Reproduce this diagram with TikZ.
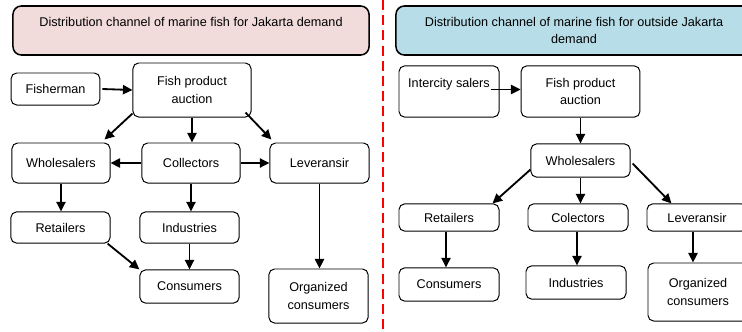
\documentclass[tikz,border=0pt]{standalone}
\usepackage{fontspec}
\setmainfont{Liberation Sans}
\usetikzlibrary{arrows.meta}

\definecolor{titlepink}{HTML}{F2DCDB}
\definecolor{titleblue}{HTML}{B7DEE8}

\begin{document}
\begin{tikzpicture}[x=0.025cm, y=-0.025cm,
  tbox/.style={rectangle, rounded corners=6pt, draw, line width=1.1pt,
              align=center, minimum width=8.9cm, minimum height=1.225cm, font=\fontsize{9}{12}\selectfont},
  nbox/.style={rectangle, rounded corners=4pt, draw, line width=0.7pt,
              align=center, minimum width=2.48cm, minimum height=0.8cm, inner sep=2pt, font=\fontsize{9}{12.5}\selectfont},
  arr/.style={-{Triangle[length=2.4mm, width=2.3mm]}, line width=1.3pt},
  sep/.style={red, line width=2pt, dash pattern=on 0.25cm off 0.13cm}
]
\path[use as bounding box, clip] (0,0) rectangle (742,331);

\node[tbox, fill=titlepink] (tjak) at (191,30.5) {Distribution channel of marine fish for Jakarta demand\\ \mbox{}};
\node[nbox, minimum width=2.22cm] (fisher) at (55.5,89) {Fisherman};
\node[nbox, minimum width=2.95cm, minimum height=1.35cm] (auc) at (192,90) {Fish product\\auction};
\node[nbox, minimum width=2.45cm, minimum height=1cm] (whole) at (61,163) {Wholesalers};
\node[nbox, minimum width=2.45cm, minimum height=1cm] (coll) at (191,163) {Collectors};
\node[nbox, minimum height=1cm] (lever) at (319.5,163) {Leveransir};
\node[nbox, minimum height=0.78cm] (retail) at (60.5,227.5) {Retailers};
\node[nbox, minimum height=0.78cm] (indus) at (189.5,227.5) {Industries};
\node[nbox, minimum height=0.83cm] (cons) at (189.5,286.5) {Consumers};
\node[nbox, minimum height=1.35cm] (orgc) at (318.5,296) {Organized\\consumers};

\draw[arr] ([shift={(2,0)}]fisher.east) -- (auc.west);
\draw[arr] ([shift={(0,-4)}]auc.south west) -- ([shift={(-6,-3)}]whole.north east);
\draw[arr] (auc.south) -- (auc.south |- coll.north);
\draw[arr] ([shift={(-6,-5)}]auc.south east) -- ([shift={(2,-3)}]lever.north west);
\draw[arr] (coll.west) -- (whole.east);
\draw[arr] (coll.east) -- (lever.west);
\draw[arr] (whole.south) -- (whole.south |- retail.north);
\draw[arr] (coll.south) -- (coll.south |- indus.north);
\draw[arr] ([shift={(-3,0)}]retail.south east) -- (cons.north west);
\draw[arr] (indus.south) -- (indus.south |- cons.north);
\draw[arr] (lever.south) -- (lever.south |- orgc.north);

\draw[sep] (383,0) -- (383,331);

\node[tbox, fill=titleblue] (tout) at (574,30.5) {Distribution channel of marine fish for outside Jakarta\\demand};
\node[nbox, minimum width=2.5cm, minimum height=1.28cm] (isal) at (449,91.5) {Intercity salers\\ \mbox{}};
\node[nbox, minimum width=2.97cm, minimum height=1.28cm] (auc2) at (580.5,91.5) {Fish product\\auction};
\node[nbox, minimum height=0.83cm] (whole2) at (580.5,160.5) {Wholesalers};
\node[nbox, minimum width=2.5cm, minimum height=0.68cm] (retail2) at (449,217.5) {Retailers};
\node[nbox, minimum width=2.5cm, minimum height=0.68cm] (coll2) at (578,217.5) {Colectors};
\node[nbox, minimum width=2.5cm, minimum height=0.68cm] (lever2) at (697,217.5) {Leveransir};
\node[nbox, minimum width=2.5cm, minimum height=0.83cm] (cons2) at (449,284.5) {Consumers};
\node[nbox, minimum width=2.5cm, minimum height=0.83cm] (indus2) at (576,282.5) {Industries};
\node[nbox, minimum width=2.5cm, minimum height=1.45cm] (orgc2) at (698,292) {Organized\\consumers};

\draw[arr] ([shift={(-9,-2)}]isal.east) -- ([shift={(0,-2)}]auc2.west);
\draw[arr] (auc2.south) -- (auc2.south |- whole2.north);
\draw[arr] ([shift={(0,-8)}]whole2.south west) -- ([shift={(-7,0)}]retail2.north east);
\draw[arr] (whole2.south) -- (whole2.south |- coll2.north);
\draw[arr] ([shift={(2,3)}]whole2.east) -- ([shift={(25,0)}]lever2.north west);
\draw[arr] ([shift={(-3,0)}]retail2.south) -- ([shift={(-3,0)}]cons2.north);
\draw[arr] ([shift={(-1,0)}]coll2.south) -- ([shift={(1,0)}]indus2.north);
\draw[arr] ([shift={(-4,0)}]lever2.south) -- ([shift={(-5,0)}]orgc2.north);
\end{tikzpicture}
\end{document}
